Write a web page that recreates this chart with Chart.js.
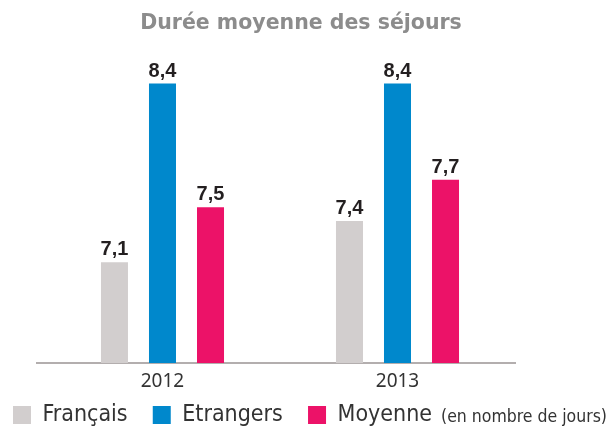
<!DOCTYPE html>
<html>
<head>
<meta charset="utf-8">
<script src="https://cdn.jsdelivr.net/npm/chart.js@4.4.0/dist/chart.umd.min.js"></script>
<style>
  html, body { margin: 0; padding: 0; background: #fff; }
</style>
</head>
<body>
<canvas id="dureeChart" width="611" height="431"></canvas>
<script>
// valeurs (en nombre de jours)
const years = [2012, 2013];
const francais = [7.1, 7.4];
const etrangers = [8.4, 8.4];
const moyenne = [7.5, 7.7];
const seriesNames = ['Français', 'Etrangers', 'Moyenne'];
const seriesColors = ['#d2cece', '#0088cc', '#ec1268'];
const unitNote = '(en nombre de jours)';

const narrowFont = '"Liberation Sans Narrow", "DejaVu Sans Condensed", sans-serif';

const toPoints = (values) => years.map((y, i) => ({ x: y, y: values[i] }));

// chiffres au-dessus des barres
const valueLabels = {
    id: 'valueLabels',
    afterDatasetsDraw(chart) {
        const ctx = chart.ctx;
        ctx.save();
        ctx.font = 'bold 20px "Liberation Sans", Arial, sans-serif';
        ctx.fillStyle = '#231f20';
        ctx.textAlign = 'center';
        ctx.textBaseline = 'alphabetic';
        chart.data.datasets.forEach((ds, i) => {
            chart.getDatasetMeta(i).data.forEach((bar, j) => {
                const txt = ds.data[j].y.toFixed(1).replace('.', ',');
                ctx.fillText(txt, bar.x, bar.y - 7);
            });
        });
        ctx.restore();
    }
};

// petite mention après la légende
const legendNote = {
    id: 'legendNote',
    afterDraw(chart) {
        const boxes = chart.legend.legendHitBoxes;
        const last = boxes[boxes.length - 1];
        const ctx = chart.ctx;
        ctx.save();
        ctx.font = '17.5px ' + narrowFont;
        ctx.fillStyle = '#333333';
        ctx.textAlign = 'left';
        ctx.textBaseline = 'middle';
        ctx.fillText(unitNote, last.left + last.width + 9, last.top + last.height / 2 + 2);
        ctx.restore();
    }
};

const ctx = document.getElementById('dureeChart').getContext('2d');
const dureeChart = new Chart(ctx, {
    type: 'bar',
    data: {
        datasets: [francais, etrangers, moyenne].map((vals, i) => ({
            label: seriesNames[i],
            data: toPoints(vals),
            backgroundColor: seriesColors[i],
            borderWidth: 0,
            categoryPercentage: 0.613,
            barPercentage: 0.5625
        }))
    },
    options: {
        responsive: false,
        animation: false,
        layout: { padding: { left: 1, right: 10, top: 0, bottom: -5.5 } },
        plugins: {
            title: {
                display: true,
                text: 'Durée moyenne des séjours',
                color: '#8c8c8c',
                font: { family: '"DejaVu Sans", sans-serif', size: 20.5, weight: 'bold' },
                padding: { top: 11, bottom: 15 }
            },
            legend: {
                position: 'bottom',
                align: 'start',
                labels: {
                    boxWidth: 18,
                    boxHeight: 18,
                    padding: 12,
                    color: '#333333',
                    font: { family: narrowFont, size: 23 },
                    // un peu d'air entre les entrées
                    generateLabels: (chart) => {
                        const items = Chart.defaults.plugins.legend.labels.generateLabels(chart);
                        items.forEach((it, i) => { if (i < items.length - 1) it.text += '  '; });
                        return items;
                    }
                }
            },
            tooltip: { enabled: false }
        },
        scales: {
            x: {
                type: 'linear',
                min: 2011.466,
                max: 2013.5,
                offset: false,
                z: 1,
                grid: { display: false, drawTicks: false },
                border: { display: true, color: '#b3aeae', width: 2 },
                afterBuildTicks: (scale) => { scale.ticks = years.map(v => ({ value: v })); },
                afterFit: (scale) => { scale.height = 28.5; },
                ticks: {
                    padding: 7,
                    color: '#333333',
                    font: { family: '"Noto Sans", sans-serif', size: 19 },
                    callback: (v) => String(v)
                }
            },
            y: {
                min: 6.3666,
                max: 8.6397,
                beginAtZero: false,
                grid: { display: false, drawTicks: false },
                border: { display: false },
                ticks: { display: false },
                afterFit: (scale) => { scale.width = 36; }
            },
            y2: {
                position: 'right',
                grid: { display: false, drawTicks: false },
                border: { display: false },
                ticks: { display: false },
                afterFit: (scale) => { scale.width = 86; }
            }
        }
    },
    plugins: [valueLabels, legendNote]
});
</script>
</body>
</html>
